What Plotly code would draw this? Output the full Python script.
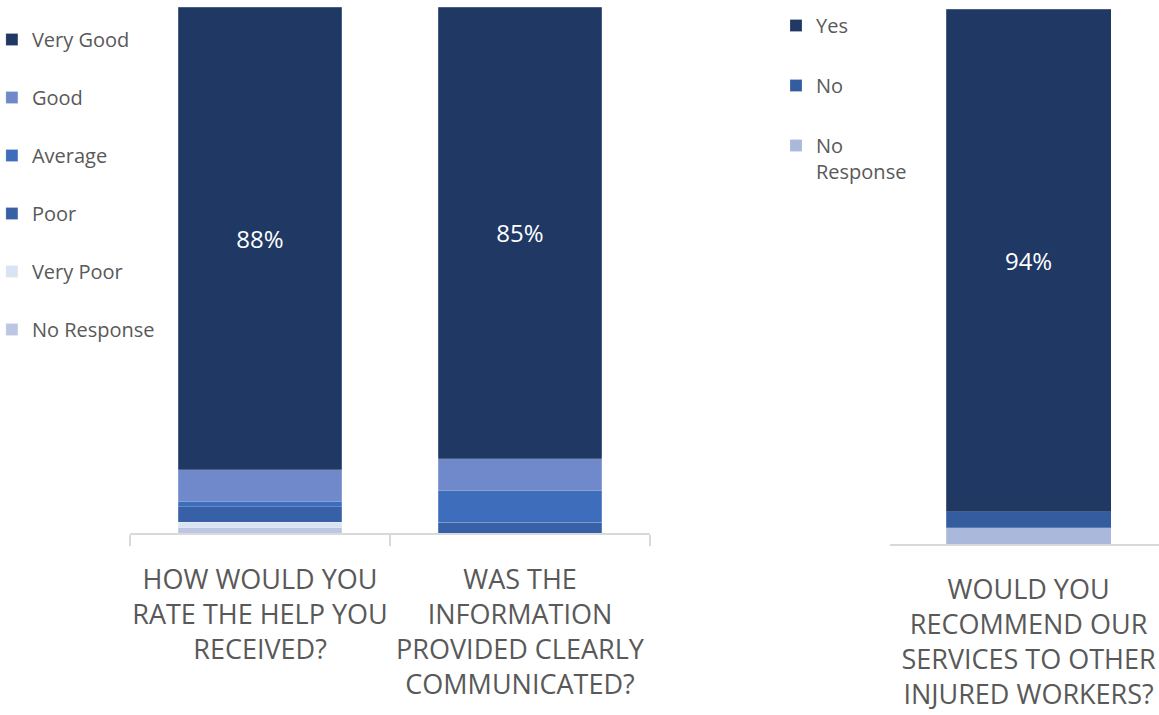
import plotly.graph_objects as go

# Survey questions (category axis labels)
rating_questions = [
    "HOW WOULD YOU<br>RATE THE HELP YOU<br>RECEIVED?",
    "WAS THE<br>INFORMATION<br>PROVIDED CLEARLY<br>COMMUNICATED?",
]
recommend_question = ["WOULD YOU<br>RECOMMEND OUR<br>SERVICES TO OTHER<br>INJURED WORKERS?"]

# Rating responses (% of respondents), bottom of stack first
rating_labels = ["No Response", "Very Poor", "Poor", "Average", "Good", "Very Good"]
no_response = [1, 0]
very_poor = [1, 0]
poor = [3, 2]
average = [1, 6]
good = [6, 6]
very_good = [88, 85]
rating_colors = ["#BCC6E2", "#DAE3F3", "#3860A6", "#3E6DBC", "#6F89CA", "#203864"]

# Recommendation responses (%)
recommend_labels = ["No Response", "No", "Yes"]
rec_no_response = [3]
rec_no = [3]
rec_yes = [94]
recommend_colors = ["#A9B8DB", "#345DA0", "#203864"]

GREY = "#595959"
FONT = "Open Sans"

fig = go.Figure()

rating_values = [no_response, very_poor, poor, average, good, very_good]
legend_rank = {"Very Good": 1, "Good": 2, "Average": 3, "Poor": 4, "Very Poor": 5, "No Response": 6}
for name, vals, col in zip(rating_labels, rating_values, rating_colors):
    fig.add_trace(go.Bar(
        x=rating_questions, y=vals, name=name,
        marker=dict(color=col, line=dict(color="rgba(255,255,255,0.25)", width=0.8)),
        width=0.63,
        xaxis="x", yaxis="y",
        legend="legend", legendgroup="r_" + name, legendrank=legend_rank[name],
        texttemplate="%{y:.0f}%" if name == "Very Good" else None,
        textposition="inside" if name == "Very Good" else "none",
        insidetextanchor="middle",
        textfont=dict(color="white", size=24, family=FONT),
        hoverinfo="skip",
    ))

rec_values = [rec_no_response, rec_no, rec_yes]
rec_rank = {"Yes": 1, "No": 2, "No Response": 3}
rec_names = {"Yes": "Yes", "No": "No", "No Response": "No<br>Response"}
for name, vals, col in zip(recommend_labels, rec_values, recommend_colors):
    fig.add_trace(go.Bar(
        x=recommend_question, y=vals, name=rec_names[name],
        marker=dict(color=col, line=dict(color="rgba(255,255,255,0.25)", width=0.8)),
        width=0.63,
        xaxis="x2", yaxis="y2",
        legend="legend2", legendgroup="c_" + name, legendrank=rec_rank[name],
        texttemplate="%{y:.0f}%" if name == "Yes" else None,
        textposition="inside" if name == "Yes" else "none",
        insidetextanchor="middle",
        textfont=dict(color="white", size=24, family=FONT),
        hoverinfo="skip",
    ))

W, H = 1159, 715

axis_common = dict(
    showline=True, linecolor="#D9D9D9", linewidth=1.5,
    tickfont=dict(size=27, color=GREY, family=FONT),
    tickangle=0, automargin=False,
    showgrid=False, zeroline=False, fixedrange=True,
)

fig.update_layout(
    width=W, height=H,
    margin=dict(l=0, r=0, t=0, b=0, autoexpand=False),
    paper_bgcolor="white", plot_bgcolor="white",
    barmode="stack", barnorm="percent",
    font=dict(family=FONT, color=GREY),
    xaxis=dict(
        domain=[130 / W, 650 / W], anchor="y",
        ticks="outside", tickson="boundaries", ticklen=11, tickwidth=1.5,
        tickcolor="#D9D9D9", ticklabelstandoff=22,
        **axis_common,
    ),
    yaxis=dict(
        domain=[(H - 533) / H, (H - 7) / H], range=[0, 100],
        visible=False, fixedrange=True,
    ),
    xaxis2=dict(
        domain=[890 / W, 1.0], anchor="y2", range=[-0.529, 0.498],
        ticks="", ticklabelstandoff=21,
        **axis_common,
    ),
    yaxis2=dict(
        domain=[(H - 544) / H, (H - 9) / H], range=[0, 100],
        visible=False, fixedrange=True,
    ),
    legend=dict(
        x=-0.007, y=1 - 20 / H, xanchor="left", yanchor="top",
        font=dict(size=20, color=GREY, family=FONT),
        traceorder="grouped", tracegroupgap=29,
        bgcolor="rgba(0,0,0,0)", itemclick=False, itemdoubleclick=False,
    ),
    legend2=dict(
        x=776 / W, y=1 - 6 / H, xanchor="left", yanchor="top",
        font=dict(size=20, color=GREY, family=FONT),
        traceorder="grouped", tracegroupgap=31, valign="top",
        bgcolor="rgba(0,0,0,0)", itemclick=False, itemdoubleclick=False,
    ),
    showlegend=True,
)

fig.write_html("out.html")
